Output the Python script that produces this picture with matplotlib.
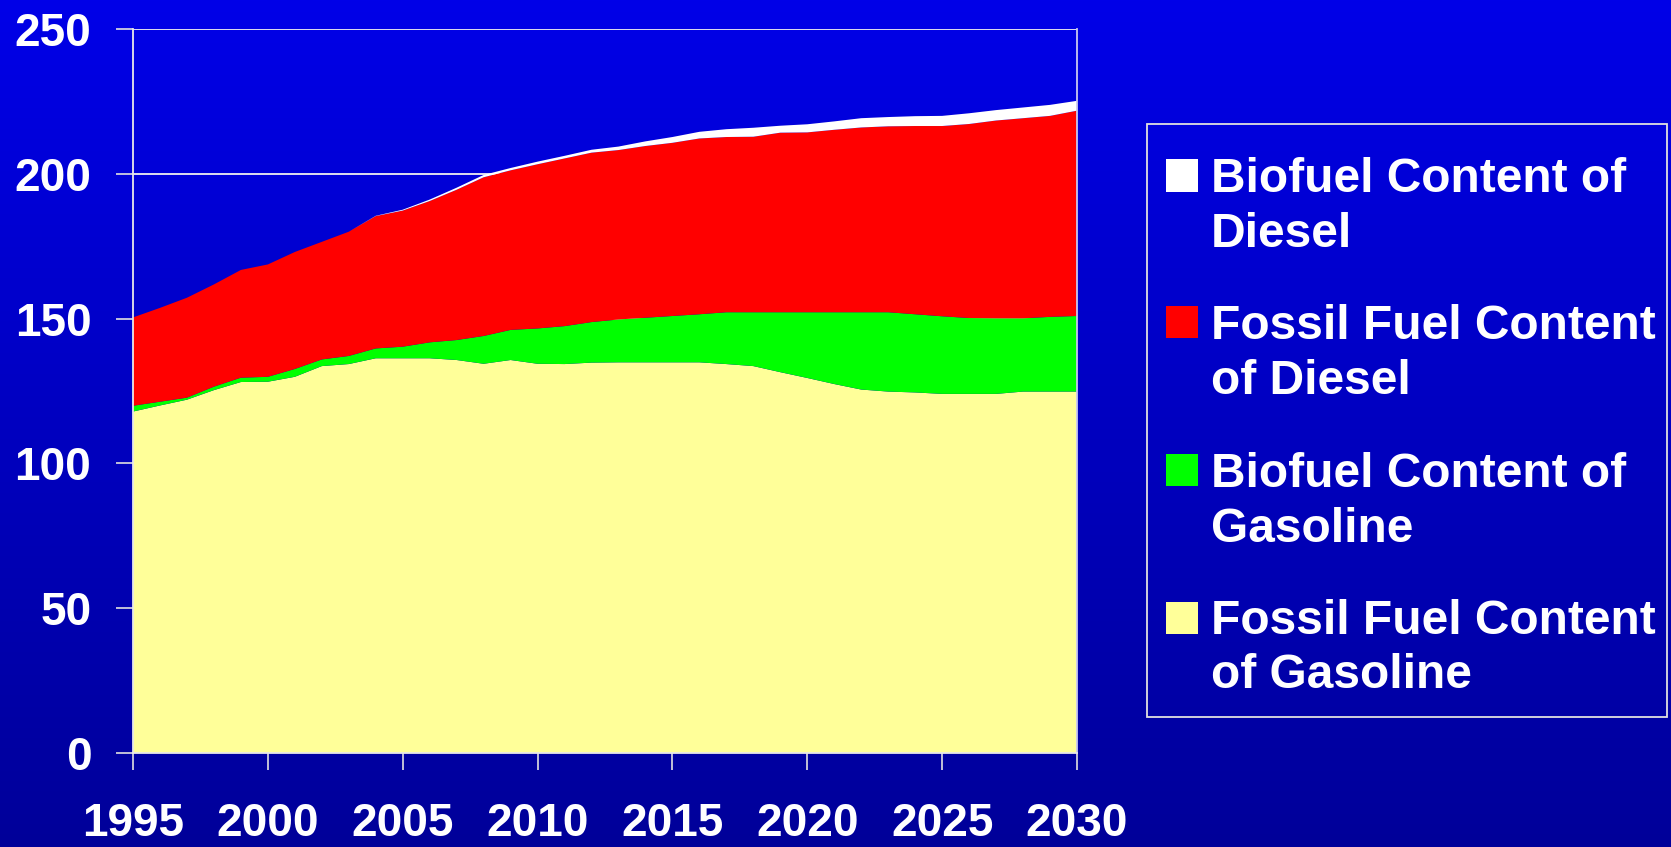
import matplotlib
matplotlib.use("Agg")
import matplotlib.pyplot as plt
import numpy as np
from matplotlib.colors import LinearSegmentedColormap
from matplotlib.patches import Rectangle

# Transportation fuel use by content, 1995-2030
years = list(range(1995, 2031))

fossil_gasoline = [117.9, 120.0, 122.0, 125.3, 128.1, 128.2, 129.9, 133.6, 134.3, 136.3,
                   136.3, 136.3, 135.7, 134.4, 135.7, 134.4, 134.3, 134.8, 134.9, 134.9,
                   134.9, 134.9, 134.3, 133.6, 131.5, 129.5, 127.4, 125.5, 124.8, 124.5,
                   124.0, 124.0, 124.0, 124.8, 124.8, 124.8]
bio_gasoline = [2.0, 1.3, 0.7, 1.2, 1.5, 1.7, 2.7, 2.3, 2.8, 3.4,
                4.0, 5.5, 6.9, 9.6, 10.4, 12.2, 13.1, 14.0, 14.8, 15.4,
                16.0, 16.6, 17.9, 18.6, 20.7, 22.7, 24.8, 26.7, 27.4, 27.0,
                26.8, 26.2, 26.1, 25.3, 25.8, 26.1]
fossil_diesel = [30.5, 32.4, 34.5, 35.3, 37.2, 38.8, 40.4, 40.6, 42.9, 45.7,
                 47.0, 48.8, 51.9, 54.8, 55.1, 56.7, 57.9, 58.5, 58.5, 59.3,
                 59.8, 60.7, 60.5, 60.6, 62.0, 62.1, 63.0, 63.8, 64.2, 65.0,
                 65.7, 67.0, 68.3, 69.1, 69.4, 70.9]
bio_diesel = [0.0, 0.0, 0.0, 0.0, 0.0, 0.0, 0.0, 0.0, 0.0, 0.1,
              0.3, 0.5, 0.7, 0.8, 0.8, 0.9, 0.9, 1.0, 1.2, 1.6,
              2.0, 2.3, 2.7, 3.1, 2.4, 2.8, 2.9, 3.2, 3.2, 3.4,
              3.5, 3.7, 3.6, 3.7, 3.8, 3.4]

series_labels = ["Fossil Fuel Content\nof Gasoline",
                 "Biofuel Content of\nGasoline",
                 "Fossil Fuel Content\nof Diesel",
                 "Biofuel Content of\nDiesel"]
series_colors = ["#FFFF99", "#00FF00", "#FF0000", "#FFFFFF"]

x_ticks = [1995, 2000, 2005, 2010, 2015, 2020, 2025, 2030]
y_ticks = [0, 50, 100, 150, 200, 250]

plt.rcParams['font.family'] = ['Liberation Sans', 'DejaVu Sans']
plt.rcParams['font.weight'] = 'bold'

W, H = 1671, 847
fig = plt.figure(figsize=(W / 100, H / 100), dpi=100)


def fx(px):
    return px / W


def fy(py):
    return 1 - py / H


# vertical blue gradient background
bg = fig.add_axes([0, 0, 1, 1], zorder=-10)
grad = np.linspace(0, 1, 512).reshape(-1, 1)
cmap = LinearSegmentedColormap.from_list("bg", ["#0000E8", "#000099"])
bg.imshow(grad, aspect='auto', cmap=cmap, extent=[0, 1, 0, 1], interpolation='bilinear')
bg.set_axis_off()

ax = fig.add_axes([fx(133), fy(753), fx(1077) - fx(133), (753 - 29) / H])
ax.set_facecolor('none')
ax.stackplot(years, fossil_gasoline, bio_gasoline, fossil_diesel, bio_diesel,
             colors=series_colors, linewidth=0, zorder=2)
ax.set_xlim(1995, 2030)
ax.set_ylim(0, 250)
ax.set_xticks(x_ticks)
ax.set_yticks(y_ticks)
ax.yaxis.grid(True, color='#F0F0F0', lw=1.3)
ax.set_axisbelow(True)

for side in ('left', 'bottom'):
    ax.spines[side].set_color('#E8E8E8')
    ax.spines[side].set_linewidth(1.3)
ax.spines['right'].set_color('#C8C8F0')
ax.spines['right'].set_linewidth(1.3)
ax.spines['top'].set_visible(False)

ax.tick_params(axis='both', direction='out', length=12, width=1.2, color='#E0E0E0',
               labelcolor='white')
ax.tick_params(axis='y', pad=18, labelsize=33)
ax.tick_params(axis='x', pad=23, labelsize=33)
for lbl in ax.get_xticklabels() + ax.get_yticklabels():
    lbl.set_fontweight('bold')

# legend panel
fig.patches.append(Rectangle((fx(1147), fy(717)), fx(1667) - fx(1147), (717 - 124) / H,
                             transform=fig.transFigure, facecolor='none',
                             edgecolor='#E0E0E0', lw=1.3))
baselines = [191.5, 338.5, 486.5, 633.5]
line_gap = 55
for i, (label, color) in enumerate(zip(series_labels[::-1], series_colors[::-1])):
    b = baselines[i]
    fig.patches.append(Rectangle((fx(1166), fy(b)), fx(1198) - fx(1166), 32 / H,
                                 transform=fig.transFigure, facecolor=color,
                                 edgecolor='none'))
    for j, line in enumerate(label.split('\n')):
        fig.text(fx(1211), fy(b + j * line_gap), line, color='white', fontsize=34.5,
                 fontweight='bold', ha='left', va='baseline')

fig.savefig("out.png", dpi=100)
